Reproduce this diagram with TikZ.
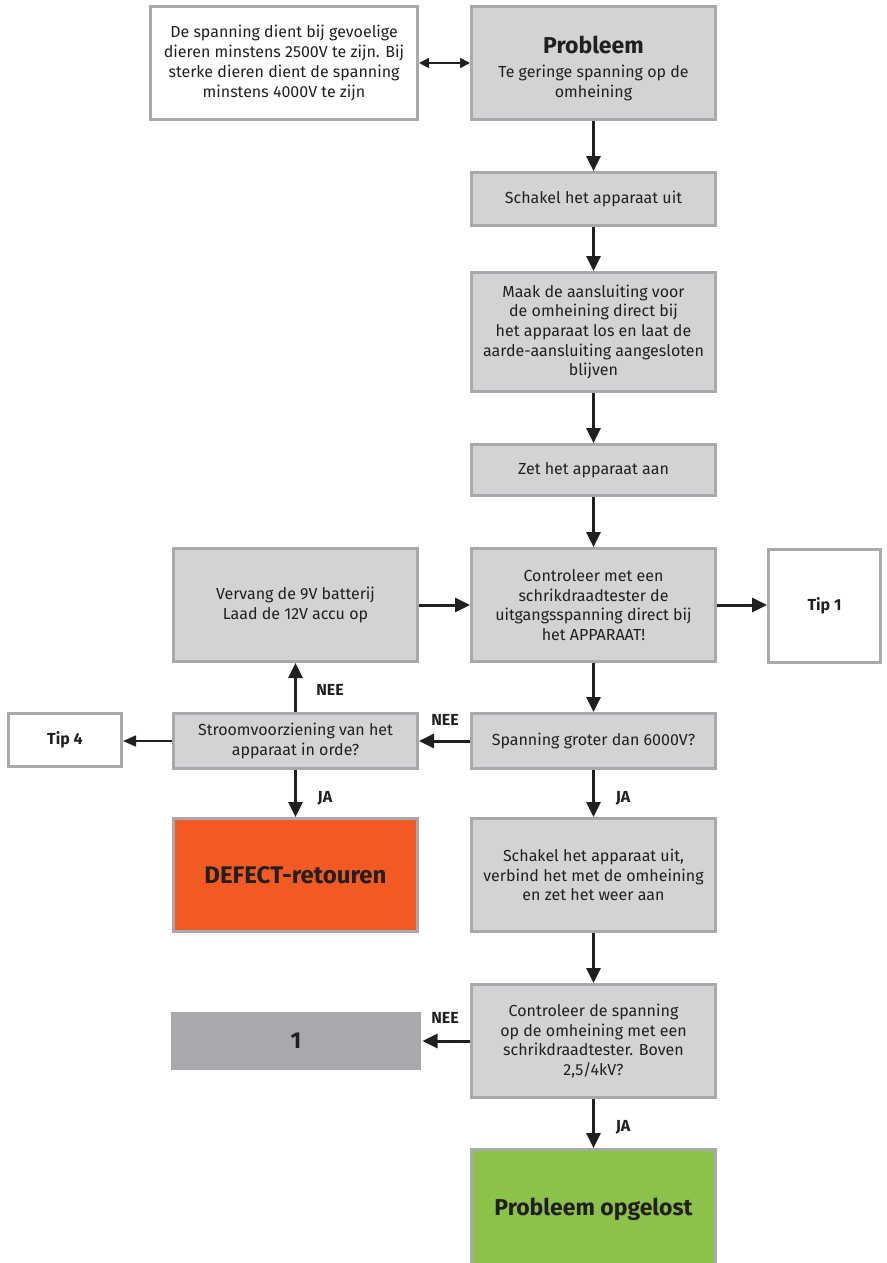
\documentclass[tikz,border=0pt]{standalone}
\usepackage{fontspec}
\setmainfont{Fira Sans}
\usetikzlibrary{arrows.meta}
\definecolor{boxgray}{HTML}{D1D3D4}
\definecolor{edgegray}{HTML}{A7A9AC}
\definecolor{ink}{HTML}{231F20}
\definecolor{orangebox}{HTML}{F15A22}
\definecolor{greenbox}{HTML}{8BC34A}
\begin{document}
\begin{tikzpicture}[x=1pt,y=-1pt,
  box/.style={draw=edgegray,line width=3pt,fill=boxgray,align=center,inner sep=0pt,text=ink,
    font=\fontsize{16}{19.7}\selectfont,minimum width=244pt,minimum height=113pt},
  whitebox/.style={box,fill=white},
  arr/.style={draw=ink,line width=3pt,-{Triangle[length=15pt,width=14pt]}},
  thinarr/.style={draw=ink,line width=1.6pt,-{Triangle[length=13pt,width=11pt]}},
  lbl/.style={text=ink,font=\fontsize{16}{18}\selectfont\bfseries,inner sep=0pt}
]
\useasboundingbox (0,0) rectangle (886,1263);

\node[whitebox,minimum width=267pt] (note) at (284,63)
  {De spanning dient bij gevoelige\\dieren minstens 2500V te zijn. Bij\\sterke dieren dient de spanning\\minstens 4000V te zijn};
\node[box] (prob) at (593.5,63)
  {\rule{0pt}{28pt}{\fontsize{23}{29}\selectfont\bfseries Probleem}\\[5pt]Te geringe spanning op de\\omheining};
\node[box,minimum height=53pt] (uit) at (593.5,199) {Schakel het apparaat uit};
\node[box,minimum height=119pt] (maak) at (593.5,332)
  {Maak de aansluiting voor\\de omheining direct bij\\het apparaat los en laat de\\aarde-aansluiting aangesloten\\blijven};
\node[box,minimum height=51pt] (aan) at (593.5,470) {Zet het apparaat aan};
\node[box] (contr) at (593.5,605)
  {Controleer met een\\schrikdraadtester de\\uitgangsspanning direct bij\\het APPARAAT!};
\node[whitebox,minimum width=112pt,font=\fontsize{16}{20}\selectfont\bfseries] (tip1) at (824.5,606) {Tip 1};
\node[box] (verv) at (295.5,605) {Vervang de 9V batterij\\Laad de 12V accu op};
\node[box,minimum height=55pt] (stroom) at (295.5,741) {Stroomvoorziening van het\\apparaat in orde?};
\node[box,minimum height=55pt] (span) at (593.5,741) {Spanning groter dan 6000V?};
\node[whitebox,minimum width=113pt,minimum height=53pt,font=\fontsize{16}{20}\selectfont\bfseries] (tip4) at (65,740) {Tip 4};
\node[box,fill=orangebox,font=\fontsize{24}{28}\selectfont\bfseries] (defect) at (295.5,875) {DEFECT-retouren};
\node[box] (verb) at (593.5,875) {Schakel het apparaat uit,\\verbind het met de omheining\\en zet het weer aan};
\node[box] (contr2) at (593.5,1041)
  {Controleer de spanning\\op de omheining met een\\schrikdraadtester. Boven\\2,5/4kV?};
\node[box,draw=none,fill=edgegray,minimum width=250pt,minimum height=58pt,font=\fontsize{23}{26}\selectfont\bfseries] (one) at (296,1041) {1};
\node[box,fill=greenbox,font=\fontsize{23}{28}\selectfont\bfseries,minimum height=119pt] (ok) at (593.5,1209) {Probleem opgelost};

\draw[draw=ink,line width=1.6pt,{Triangle[length=10pt,width=10pt]}-{Triangle[length=10pt,width=10pt]}] (note.east) -- (prob.west);
\draw[arr] (prob.south) -- (uit.north);
\draw[arr] (uit.south) -- (maak.north);
\draw[arr] (maak.south) -- (aan.north);
\draw[arr] (aan.south) -- (contr.north);
\draw[arr] (contr.east) -- (tip1.west |- contr.east);
\draw[arr] (verv.east) -- (contr.west);
\draw[arr] (contr.south) -- (span.north);
\draw[arr] (span.west) -- (stroom.east);
\draw[arr] (stroom.north) -- (verv.south);
\draw[thinarr] (stroom.west) -- (tip4.east |- stroom.west);
\draw[arr] (stroom.south) -- (defect.north);
\draw[arr] (span.south) -- (verb.north);
\draw[arr] (verb.south) -- (contr2.north);
\draw[arr] (contr2.west) -- (one.east |- contr2.west);
\draw[arr] (contr2.south) -- (ok.north);

\node[lbl] (l1) at (330,690) {NEE};
\node[lbl] (l2) at (445,720) {NEE};
\node[lbl] (l3) at (325,798) {JA};
\node[lbl] (l4) at (623,798) {JA};
\node[lbl] (l5) at (445,1018) {NEE};
\node[lbl] (l6) at (623,1127) {JA};
\end{tikzpicture}
\end{document}
